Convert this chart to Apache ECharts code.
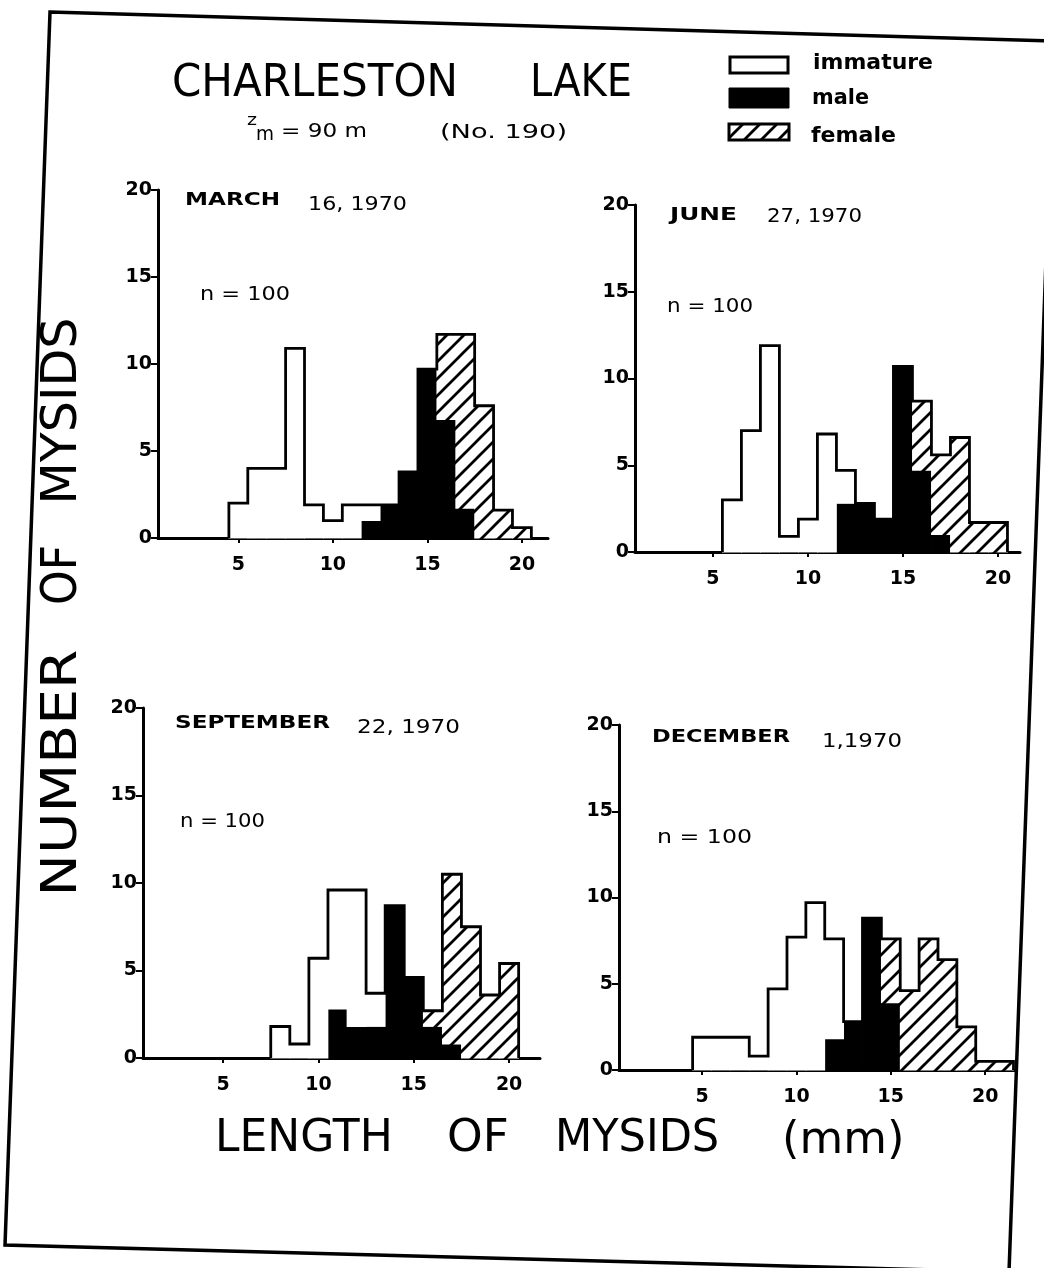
<!DOCTYPE html>
<html><head><meta charset="utf-8">
<script src="https://cdn.jsdelivr.net/npm/echarts@6/dist/echarts.min.js"></script>
<style>html,body{margin:0;padding:0;background:#fff}#c{width:1044px;height:1268px}</style>
</head><body><div id="c"></div>
<script>
// ---------- DATA (length bins in mm, counts) ----------
const lengths = [1,2,3,4,5,6,7,8,9,10,11,12,13,14,15,16,17,18,19,20,21];
const xTicks = [5,10,15,20];
const panelNames = ['MARCH','JUNE','SEPTEMBER','DECEMBER'];
const panelDates = ['16, 1970','27, 1970','22, 1970','1,1970'];
const sampleLabel = 'n = 100';

const marchImmature = [0,0,0,0,2,4,4,10.9,1.9,1,1.9,0.9,0,0,0,0,0,0,0,0,0];
const marchMale     = [0,0,0,0,0,0,0,0,0,0,0,1,1.9,3.8,9.7,6.8,1.7,0,0,0,0];
const marchFemale   = [0,0,0,0,0,0,0,0,0,0,0,0,0,0,0,4.9,10,7.6,1.6,0.6,0];

const juneImmature  = [0,0,0,0,0,3,7,11.9,0.9,1.9,6.8,1.9,0,0,0,0,0,0,0,0,0];
const juneMale      = [0,0,0,0,0,0,0,0,0,0,0,2.8,2.8,1.9,10.7,4.7,1,0,0,0,0];
const juneFemale    = [0,0,0,0,0,0,0,0,0,0,0,0,0,0,0,4,4.6,6.6,1.7,1.7,0];

const septImmature  = [0,0,0,0,0,0,0,1.8,0.8,5.7,6.8,7.8,1.9,0,0,0,0,0,0,0,0];
const septMale      = [0,0,0,0,0,0,0,0,0,0,2.8,1.8,1.8,8.7,4.6,1.8,0.8,0,0,0,0];
const septFemale    = [0,0,0,0,0,0,0,0,0,0,0,0,0,0,0,0.9,9.7,7.5,3.6,5.4,0];

const decImmature   = [0,0,0,0,1.9,1.9,1.9,0.8,4.7,7.7,9.7,5.8,0,0,0,0,0,0,0,0,0];
const decMale       = [0,0,0,0,0,0,0,0,0,0,0,1.8,2.8,8.8,3.9,0,0,0,0,0,0];
const decFemale     = [0,0,0,0,0,0,0,0,0,0,0,0,0,0,3.7,4.6,7.6,6.4,2.5,0.5,0.5];

const panels = [
  {imm: marchImmature, male: marchMale, fem: marchFemale},
  {imm: juneImmature,  male: juneMale,  fem: juneFemale},
  {imm: septImmature,  male: septMale,  fem: septFemale},
  {imm: decImmature,   male: decMale,   fem: decFemale}
];

// ---------- LAYOUT ----------
const layout = [
  {left:158, top:190, width:390, height:348, xmin:0.75, xmax:21.38},
  {left:635, top:205, width:385, height:347, xmin:0.9,  xmax:21.16},
  {left:143, top:708, width:397, height:350, xmin:0.8,  xmax:21.62},
  {left:619, top:725, width:396, height:345, xmin:0.6,  xmax:21.58}
];
const FONT = '"DejaVu Sans", "Liberation Sans", sans-serif';

// hatch pattern
function makeHatch(T, lw) {
  const c = document.createElement('canvas');
  c.width = T; c.height = T;
  const g = c.getContext('2d');
  g.fillStyle = '#fff'; g.fillRect(0,0,T,T);
  g.strokeStyle = '#000'; g.lineWidth = lw; g.lineCap = 'square';
  g.beginPath();
  for (const k of [-T, 0, T]) { g.moveTo(k, T); g.lineTo(k + T, 0); }
  g.stroke();
  return c;
}
const hatch = {image: makeHatch(17, 2.8), repeat: 'repeat'};

// text helpers
const mctx = document.createElement('canvas').getContext('2d');
function txtStyle(str, font, align) {
  return {text:str, font:font, fill:'#000', align:align, verticalAlign:'middle',
          textAlign:align, textVerticalAlign:'middle'};
}
function fitText(str, left, right, cy, size, weight) {
  const font = (weight || 'normal') + ' ' + size + 'px ' + FONT;
  mctx.font = font;
  const w = mctx.measureText(str).width;
  return {type:'text', x:left, y:cy, scaleX:(right-left)/w, z:50, style:txtStyle(str, font, 'left')};
}
function scaledText(str, left, cy, size, sx, weight) {
  const font = (weight || 'normal') + ' ' + size + 'px ' + FONT;
  return {type:'text', x:left, y:cy, scaleX:sx, z:50, style:txtStyle(str, font, 'left')};
}
function fitTextV(str, cx, cy, len, size) {
  const font = 'normal ' + size + 'px ' + FONT;
  mctx.font = font;
  const w = mctx.measureText(str).width;
  return {type:'text', x:cx, y:cy, rotation:Math.PI/2, scaleX:len/w, z:50, style:txtStyle(str, font, 'center')};
}

// ---------- OPTION ----------
const grids = [], xAxes = [], yAxes = [], series = [];
function rectRenderer(fill) {
  return function(params, api) {
    const x = api.value(0), b = api.value(1), h = api.value(2);
    if (!(h > 0)) return null;
    const p0 = api.coord([x - 0.5, b]);
    const p1 = api.coord([x + 0.5, b + h]);
    return {type:'rect',
      shape:{x:p0[0] - 0.4, y:p1[1] - 0.4, width:p1[0]-p0[0] + 0.8, height:p0[1]-p1[1] + 0.8},
      style:{fill:fill, stroke:null}};
  };
}
panels.forEach((p, i) => {
  const L = layout[i];
  grids.push({left:L.left, top:L.top, width:L.width, height:L.height, containLabel:false});
  xAxes.push({type:'value', gridIndex:i, min:L.xmin, max:L.xmax,
    axisLine:{show:true, onZero:false, lineStyle:{color:'#000', width:3}},
    axisTick:{show:true, inside:false, length:5, customValues:xTicks, lineStyle:{color:'#000', width:2}},
    axisLabel:{show:true, customValues:xTicks, margin:18, color:'#000', fontSize:19, fontWeight:'bold', fontFamily:FONT},
    splitLine:{show:false}});
  yAxes.push({type:'value', gridIndex:i, min:0, max:20, interval:5,
    axisLine:{show:true, onZero:false, lineStyle:{color:'#000', width:3}},
    axisTick:{show:true, inside:false, length:7, lineStyle:{color:'#000', width:2}},
    axisLabel:{show:true, margin:6, color:'#000', fontSize:19, fontWeight:'bold', fontFamily:FONT},
    splitLine:{show:false}});
  const maleData = [], femData = [], immData = [], outline = [];
  let first = -1, last = -1;
  lengths.forEach((len, k) => {
    const m = p.male[k], f = p.fem[k], im = p.imm[k];
    maleData.push([len, 0, m]);
    femData.push([len, m, f]);
    immData.push([len, m + f, im]);
    if (m + f + im > 0) { if (first < 0) first = k; last = k; }
  });
  outline.push([lengths[first] - 0.5, 0]);
  for (let k = first; k <= last; k++) {
    const t = p.male[k] + p.fem[k] + p.imm[k];
    outline.push([lengths[k] - 0.5, t]);
    outline.push([lengths[k] + 0.5, t]);
  }
  outline.push([lengths[last] + 0.5, 0]);
  series.push({type:'custom', xAxisIndex:i, yAxisIndex:i, renderItem:rectRenderer('#000'), data:maleData, z:2, silent:true});
  series.push({type:'custom', xAxisIndex:i, yAxisIndex:i, renderItem:rectRenderer(hatch), data:femData, z:2, silent:true});
  series.push({type:'custom', xAxisIndex:i, yAxisIndex:i, renderItem:rectRenderer('#fff'), data:immData, z:2, silent:true});
  series.push({type:'line', xAxisIndex:i, yAxisIndex:i, data:outline, showSymbol:false, symbol:'none',
    lineStyle:{color:'#000', width:2.8, join:'miter'}, z:3, silent:true});
});

const graphics = [
  // frame
  {type:'polygon', shape:{points:[[50,12],[1054,41],[1009,1272],[5,1245]]},
   style:{fill:null, stroke:'#000', lineWidth:3.5}, z:40},
  // title
  fitText('CHARLESTON', 172, 458, 84, 45),
  fitText('LAKE', 530, 632, 84, 45),
  fitText('z', 247, 257, 121, 15),
  fitText('m', 256, 274, 135, 19),
  fitText('= 90 m', 281, 367, 132, 20),
  fitText('(No. 190)', 440, 567, 133, 20),
  // legend
  {type:'rect', shape:{x:730, y:57, width:58, height:16}, style:{fill:'#fff', stroke:'#000', lineWidth:3}, z:50},
  {type:'rect', shape:{x:729, y:88, width:60, height:20}, style:{fill:'#000', stroke:'#000', lineWidth:1}, z:50},
  {type:'rect', shape:{x:729, y:124, width:60, height:16}, style:{fill:hatch, stroke:'#000', lineWidth:3}, z:50},
  fitText('immature', 813, 933, 64, 21, 'bold'),
  fitText('male', 812, 869, 99, 21, 'bold'),
  fitText('female', 811, 896, 137, 21, 'bold'),
  // panel labels
  fitText(panelNames[0], 185, 280, 200, 18, 'bold'),
  fitText(panelDates[0], 308, 407, 205, 20),
  fitText(sampleLabel, 200, 290, 295, 19),
  fitText(panelNames[1], 670, 737, 215, 18, 'bold'),
  fitText(panelDates[1], 767, 862, 217, 20),
  fitText(sampleLabel, 667, 753, 307, 19),
  fitText(panelNames[2], 175, 330, 723, 18, 'bold'),
  fitText(panelDates[2], 357, 460, 728, 20),
  fitText(sampleLabel, 180, 265, 822, 19),
  fitText(panelNames[3], 652, 790, 737, 18, 'bold'),
  fitText(panelDates[3], 822, 902, 742, 20),
  fitText(sampleLabel, 657, 752, 838, 19),
  // axis titles
  scaledText('LENGTH', 215, 1140, 44, 1.0),
  scaledText('OF', 447, 1140, 44, 1.03),
  scaledText('MYSIDS', 555, 1140, 44, 0.98),
  scaledText('(mm)', 782, 1142, 44, 1.02),
  fitTextV('MYSIDS', 63, 411, 187, 50),
  fitTextV('OF', 63, 575, 60, 50),
  fitTextV('NUMBER', 63, 773, 247, 50)
];

const chart = echarts.init(document.getElementById('c'), null, {renderer:'canvas'});
chart.setOption({
  animation:false,
  backgroundColor:'#fff',
  grid:grids, xAxis:xAxes, yAxis:yAxes, series:series,
  graphic:graphics
});
</script></body></html>
